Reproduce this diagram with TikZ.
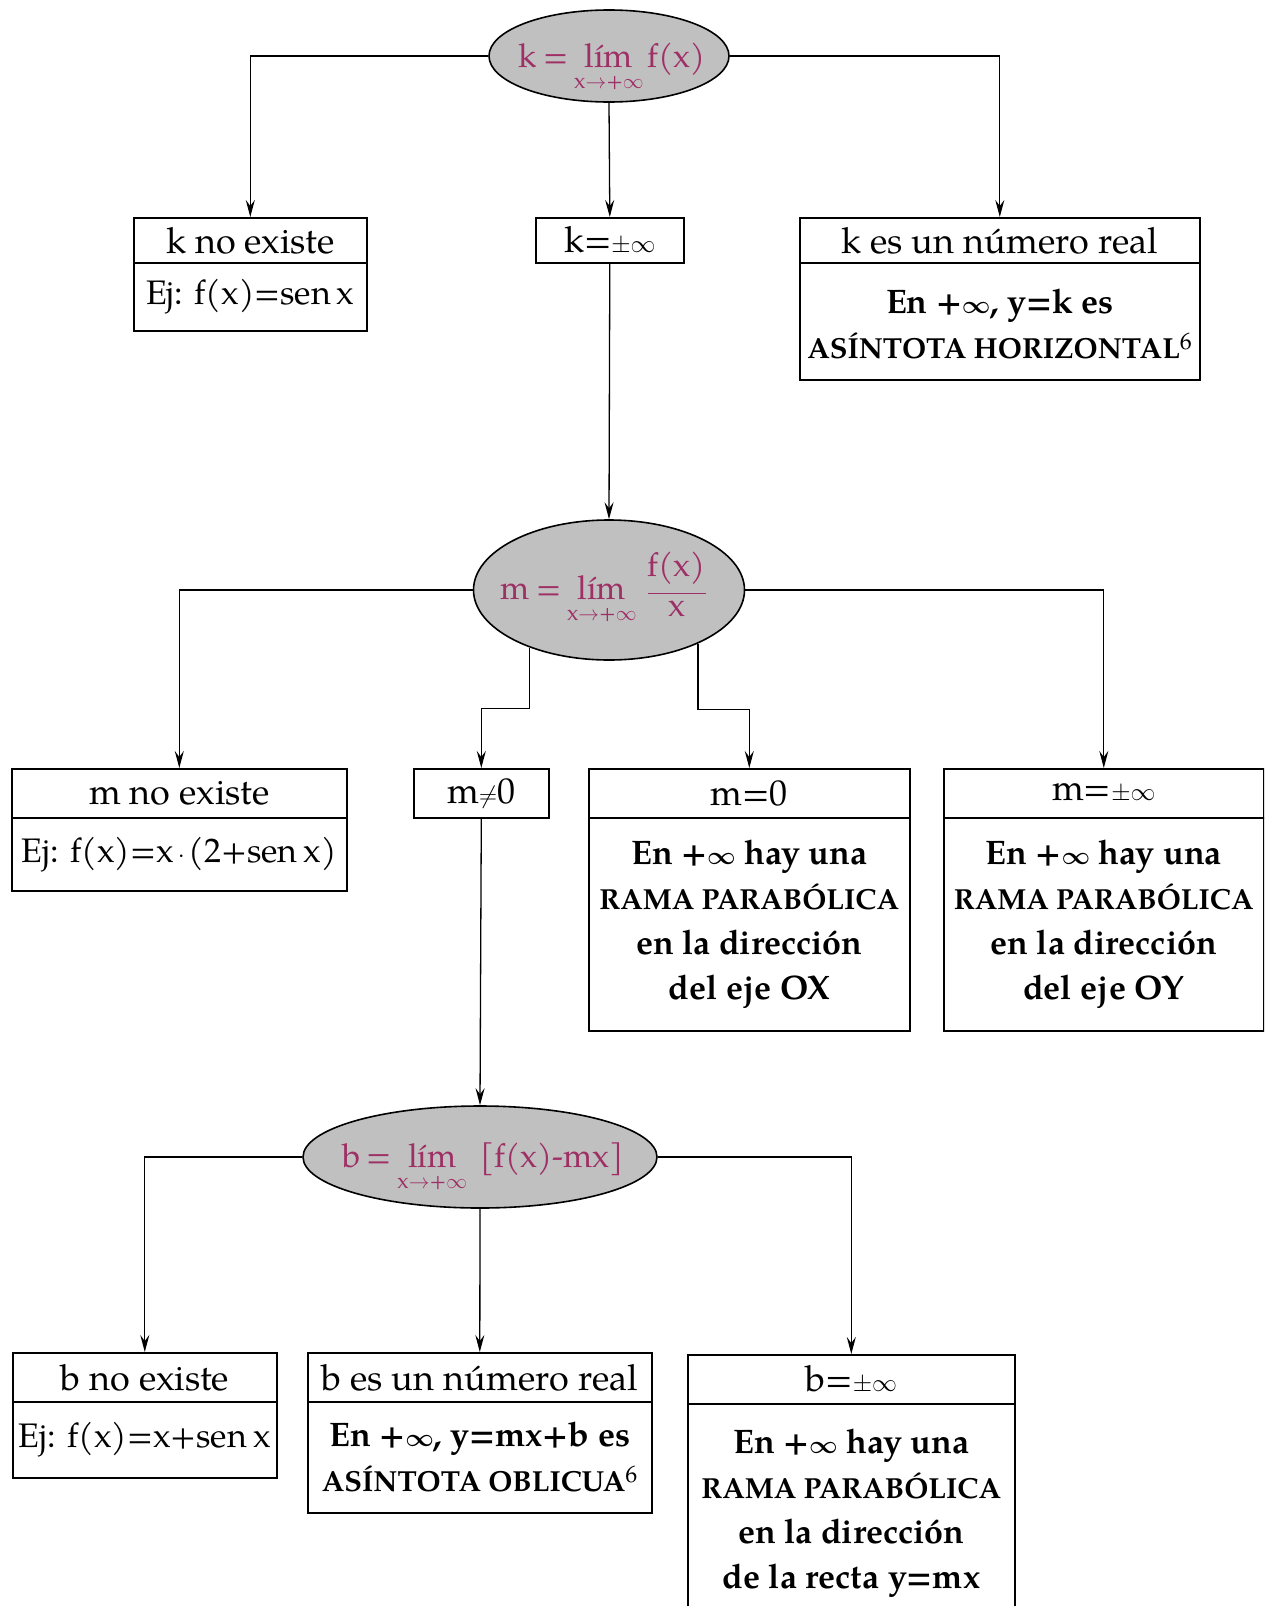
\documentclass[tikz,border=0pt]{standalone}
\usepackage{fontspec}
\setmainfont{TeX Gyre Pagella}
\usetikzlibrary{shapes.geometric,arrows.meta}
\definecolor{mathc}{RGB}{158,48,102}
\definecolor{ellfill}{RGB}{192,192,192}
\newcommand{\limx}{$\mathop{\hbox{lím}}\limits_{\hbox{\vrule width0pt height19pt\relax\fontsize{22}{22}\selectfont x$\rightarrow$+$\infty$}}$}
\newcommand{\eqs}{\hspace{0.18em}=\hspace{0.18em}}
\tikzset{
  ell/.style={ellipse, draw, line width=1.6pt, fill=ellfill, inner sep=0pt},
  mtext/.style={inner sep=0pt, text=mathc, font=\fontsize{33}{40}\selectfont},
  hdr/.style={draw, line width=1.6pt, anchor=north west, inner sep=0pt, font=\fontsize{36}{40}\selectfont},
  bodyn/.style={draw, line width=1.6pt, anchor=north west, inner sep=0pt, align=center, font=\fontsize{34}{40}\selectfont},
  bodyb/.style={draw, line width=1.6pt, anchor=north west, inner sep=0pt, align=center, font=\fontsize{34}{45}\selectfont\bfseries},
  conn/.style={line width=1.3pt, -{Stealth[length=17pt,width=9pt,inset=6pt]}},
}
\newcommand{\capsline}[1]{{\fontsize{29}{45}\selectfont #1}}
\begin{document}
\begin{tikzpicture}[x=1pt,y=-1pt]
\useasboundingbox (0,0) rectangle (1264,1606);
\clip (0,0) rectangle (1264,1606);

% ---- level 1
\node[ell, minimum width=240pt, minimum height=92pt] (E1) at (609,56) {};
\node[mtext, yshift=-11pt, xshift=3pt] (E1t) at (E1.center) {k\eqs\limx\hspace{0.1em}f(x)};

\node[hdr, minimum width=233pt, minimum height=45pt] (kne) at (133,217) {k no existe};
\node[bodyn, minimum width=233pt, minimum height=68pt] (kneb) at (133,262) {Ej: f(x)=sen\hspace{0.18em}x};

\node[hdr, minimum width=148pt, minimum height=45pt] (kinf) at (535,217) {k=$\pm\infty$};

\node[hdr, minimum width=400pt, minimum height=45pt] (kes) at (799,217) {k es un número real};
\node[bodyb, minimum width=400pt, minimum height=117pt] (kesb) at (799,262)
  {\rule{0pt}{30pt}En +{\boldmath$\infty$}, y=k es\\\capsline{ASÍNTOTA HORIZONTAL}\textsuperscript{\mdseries 6}};

\draw[conn] (E1.west) -| (kne.north);
\draw[conn] (E1.east) -| (kes.north);
\draw[conn] (E1.south) -- (kinf.north);

% ---- level 2
\node[ell, minimum width=271pt, minimum height=140pt] (E2) at (609,590) {};
\node[mtext, xshift=-5pt, yshift=3pt] (E2t) at (E2.center) {m\eqs\limx\hspace{0.3em}$\displaystyle\frac{\hbox{f(x)\vrule width0pt depth16pt}}{\hbox{x}}$};
\draw[conn] (kinf.south) -- (E2.north);

\node[hdr, minimum width=335pt, minimum height=49pt] (mne) at (11,768) {m no existe};
\node[bodyn, minimum width=335pt, minimum height=73pt] (mneb) at (11,817) {Ej: f(x)=x$\,\cdot\,$(2+sen\hspace{0.18em}x)};

\node[hdr, minimum width=135pt, minimum height=49pt] (mnz) at (413,768) {m$\neq$0};

\node[hdr, minimum width=321pt, minimum height=49pt] (mz) at (588,768) {m=0};
\node[bodyb, minimum width=321pt, minimum height=213pt] (mzb) at (588,817)
  {En +{\boldmath$\infty$} hay una\\\capsline{RAMA PARABÓLICA}\\en la dirección\\del eje OX};

\node[hdr, minimum width=320pt, minimum height=49pt] (minf) at (943,768) {m=$\pm\infty$};
\node[bodyb, minimum width=320pt, minimum height=213pt] (minfb) at (943,817)
  {En +{\boldmath$\infty$} hay una\\\capsline{RAMA PARABÓLICA}\\en la dirección\\del eje OY};

\draw[conn] (E2.west) -| (mne.north);
\draw[conn] (E2.east) -| (minf.north);
\draw[conn] (E2.216.8) -- ++(0,61) -| (mnz.north);
\draw[conn] (E2.329.8) -- ++(0,66) -| (mz.north);

% ---- level 3
\node[ell, minimum width=354pt, minimum height=102pt] (E3) at (480,1157) {};
\node[mtext, yshift=-10pt, xshift=3pt] (E3t) at (E3.center) {b\eqs\limx\hspace{0.4em}[f(x)-mx]};
\draw[conn] (mnz.south) -- (E3.north);

\node[hdr, minimum width=264pt, minimum height=49pt] (bne) at (12,1352) {b no existe};
\node[bodyn, minimum width=264pt, minimum height=76pt] (bneb) at (12,1401) {Ej: f(x)=x+sen\hspace{0.18em}x};

\node[hdr, minimum width=344pt, minimum height=49pt] (bes) at (307,1352) {b es un número real};
\node[bodyb, minimum width=344pt, minimum height=111pt] (besb) at (307,1401)
  {En +{\boldmath$\infty$}, y=mx+b es\\\capsline{ASÍNTOTA OBLICUA}\textsuperscript{\mdseries 6}};

\node[hdr, minimum width=327pt, minimum height=49pt] (binf) at (687,1354) {b=$\pm\infty$};
\node[bodyb, minimum width=327pt, minimum height=218pt] (binfb) at (687,1403)
  {En +{\boldmath$\infty$} hay una\\\capsline{RAMA PARABÓLICA}\\en la dirección\\de la recta y=mx};

\draw[conn] (E3.west) -| (bne.north);
\draw[conn] (E3.east) -| (binf.north);
\draw[conn] (E3.south) -- (bes.north);
\end{tikzpicture}
\end{document}
